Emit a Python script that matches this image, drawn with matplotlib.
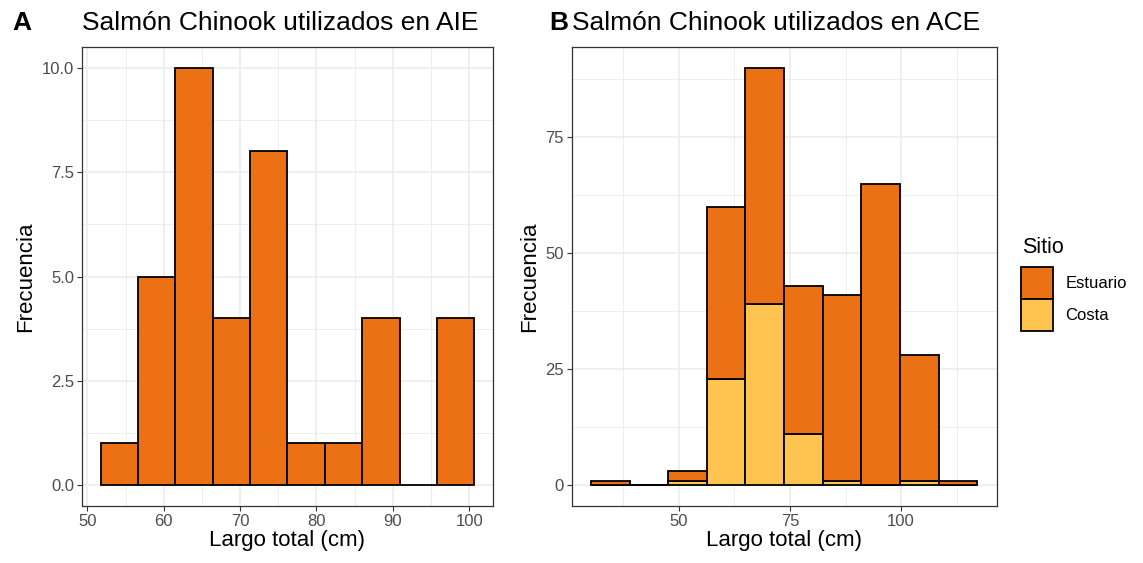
import numpy as np
import matplotlib.pyplot as plt
from matplotlib.patches import Patch

plt.rcParams['font.family'] = ['Liberation Sans', 'DejaVu Sans']

# panel A: histogram of lengths used in AIE
edges_a = [51.75, 56.64, 61.53, 66.42, 71.31, 76.2, 81.09, 85.98, 90.87, 95.76, 100.65]
counts_a = [1, 5, 10, 4, 8, 1, 1, 4, 0, 4]

# panel B: stacked histogram by site
edges_b = [30.23, 38.92, 47.61, 56.3, 64.99, 73.68, 82.37, 91.06, 99.75, 108.44, 117.13]
costa = [0, 0, 1, 23, 39, 11, 1, 0, 1, 0]
estuario = [1, 0, 2, 37, 51, 32, 40, 65, 27, 1]

orange = '#EC7014'
yellow = '#FEC44F'
grid_col = '#EBEBEB'
tick_col = '#4D4D4D'

fig = plt.figure(figsize=(11.43, 5.63), dpi=100)
ax1 = fig.add_axes([0.0717, 0.1012, 0.3596, 0.8153])
ax2 = fig.add_axes([0.5002, 0.1012, 0.3718, 0.8153])


def style(ax, xmaj, xmin, ymaj, ymin, yfmt):
    ax.set_xticks(xmaj)
    ax.set_xticks(xmin, minor=True)
    ax.set_yticks(ymaj)
    ax.set_yticks(ymin, minor=True)
    ax.set_yticklabels([yfmt.format(v) for v in ymaj])
    ax.grid(True, which='major', color=grid_col, lw=1.1, zorder=0)
    ax.grid(True, which='minor', color=grid_col, lw=0.6, zorder=0)
    ax.set_axisbelow(True)
    ax.tick_params(which='major', length=3.5, width=0.8, color='#333333',
                   labelsize=12, labelcolor=tick_col, pad=2)
    ax.tick_params(which='minor', length=0)
    for s in ax.spines.values():
        s.set_color('#333333')
        s.set_linewidth(0.9)
    ax.set_xlabel('Largo total (cm)', fontsize=16, labelpad=1)
    ax.set_ylabel('Frecuencia', fontsize=16, labelpad=4)


# panel A
w_a = np.diff(edges_a)
ax1.bar(edges_a[:-1], counts_a, width=w_a, align='edge', color=orange,
        edgecolor='black', linewidth=1.3, zorder=3)
ax1.set_xlim(49.3, 103.1)
ax1.set_ylim(-0.5, 10.5)
style(ax1, [50, 60, 70, 80, 90, 100], [55, 65, 75, 85, 95],
      [0, 2.5, 5, 7.5, 10], [1.25, 3.75, 6.25, 8.75], '{:.1f}')

# panel B
w_b = np.diff(edges_b)
ax2.bar(edges_b[:-1], costa, width=w_b, align='edge', color=yellow,
        edgecolor='black', linewidth=1.3, zorder=3)
ax2.bar(edges_b[:-1], estuario, width=w_b, bottom=costa, align='edge', color=orange,
        edgecolor='black', linewidth=1.3, zorder=3)
ax2.set_xlim(25.9, 121.5)
ax2.set_ylim(-4.5, 94.5)
style(ax2, [50, 75, 100], [37.5, 62.5, 87.5, 112.5],
      [0, 25, 50, 75], [12.5, 37.5, 62.5, 87.5], '{:.0f}')

# titles and panel tags
ty = 1 - 30 / 563
fig.text(0.0717, ty, 'Salmón Chinook utilizados en AIE', fontsize=19, va='baseline', ha='left')
fig.text(0.0105, ty, 'A', fontsize=19, fontweight='bold', va='baseline', ha='left')
fig.text(0.5002, ty, 'Salmón Chinook utilizados en ACE', fontsize=19, va='baseline', ha='left')
fig.text(0.4805, ty, 'B', fontsize=19, fontweight='bold', va='baseline', ha='left')

# legend (title placed separately to get the ggplot gap)
handles = [Patch(facecolor=orange, edgecolor='black', linewidth=1.3, label='Estuario'),
           Patch(facecolor=yellow, edgecolor='black', linewidth=1.3, label='Costa')]
fig.legend(handles=handles, loc='upper left',
           bbox_to_anchor=(0.893, 1 - 267 / 563), frameon=False, fontsize=12,
           handlelength=1.92, handleheight=2.58,
           handletextpad=0.75, labelspacing=0.0, borderpad=0, borderaxespad=0)
fig.text(0.894, 1 - 253 / 563, 'Sitio', fontsize=15.5, va='baseline', ha='left')

fig.savefig('out.png', dpi=100)
